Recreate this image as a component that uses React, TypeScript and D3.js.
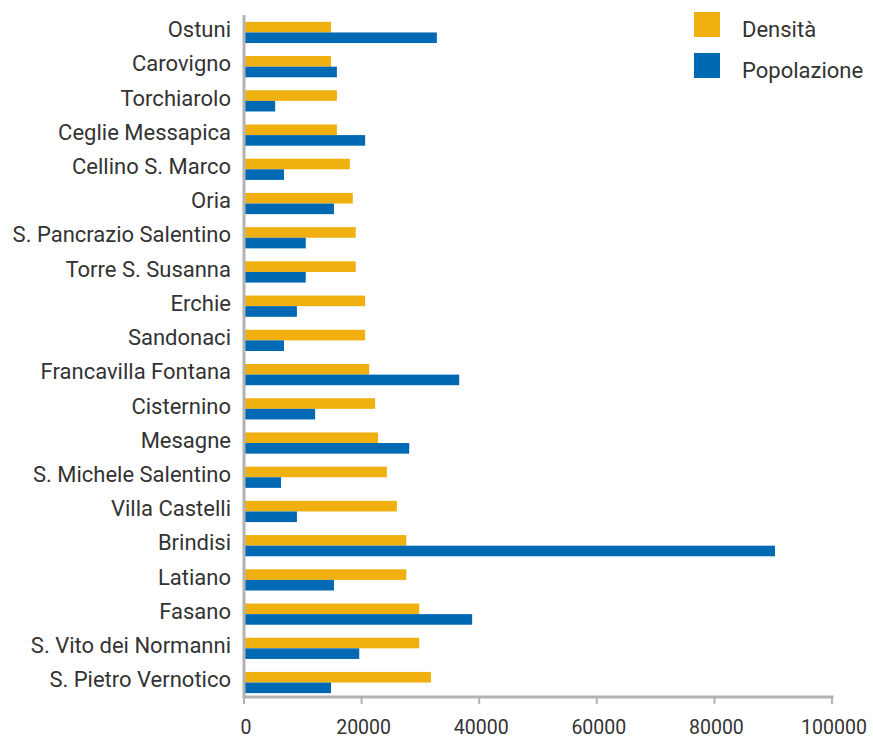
import React from "react";
import * as d3 from "d3";

const categories = [
  "Ostuni", "Carovigno", "Torchiarolo", "Ceglie Messapica", "Cellino S. Marco",
  "Oria", "S. Pancrazio Salentino", "Torre S. Susanna", "Erchie", "Sandonaci",
  "Francavilla Fontana", "Cisternino", "Mesagne", "S. Michele Salentino", "Villa Castelli",
  "Brindisi", "Latiano", "Fasano", "S. Vito dei Normanni", "S. Pietro Vernotico",
];
const densita = [
  14800, 14800, 15800, 15800, 18000, 18500, 19000, 19000, 20600, 20600,
  21300, 22300, 22800, 24300, 26000, 27600, 27600, 29800, 29800, 31800,
];
const popolazione = [
  32800, 15800, 5300, 20600, 6800, 15300, 10500, 10500, 9000, 6800,
  36600, 12100, 28100, 6300, 9000, 90300, 15300, 38800, 19600, 14800,
];
const xTicks = [0, 20000, 40000, 60000, 80000, 100000];
const seriesNames = ["Densità", "Popolazione"];
const colors = ["#F0B110", "#0069B4"];

export default function App() {
  const W = 873, H = 739;
  const x = d3.scaleLinear().domain([0, 100000]).range([244, 832]);
  const y = d3.scaleBand<string>().domain(categories).range([15, 700]).paddingInner(0.38).paddingOuter(0.2);
  const bh = y.bandwidth() / 2;
  const axisY = 697;
  const font = "Roboto, 'DejaVu Sans', sans-serif";
  return (
    <svg width={W} height={H} style={{ position: "absolute", left: 0, top: 0, fontFamily: font }}>
      {categories.map((c, i) => {
        const y0 = y(c)!;
        return (
          <g key={c}>
            <rect x={x(0)} y={y0} width={x(densita[i]) - x(0)} height={bh} fill={colors[0]} />
            <rect x={x(0)} y={y0 + bh} width={x(popolazione[i]) - x(0)} height={bh} fill={colors[1]} />
            <text x={231} y={y0 + bh - 3} dy="0.35em" textAnchor="end" fontSize={22} fill="#333">{c}</text>
          </g>
        );
      })}
      <line x1={x(0)} x2={x(0)} y1={15} y2={axisY} stroke="#b3b3b6" strokeWidth={3} />
      <line x1={x(0) - 1.5} x2={x(100000) + 1.5} y1={axisY} y2={axisY} stroke="#b3b3b6" strokeWidth={3} />
      {xTicks.map(t => (
        <g key={t}>
          <line x1={x(t)} x2={x(t)} y1={axisY} y2={axisY + 7} stroke="#b3b3b6" strokeWidth={2} />
          <text x={x(t) + 2} y={734} textAnchor="middle" fontSize={19.5} fill="#333">{t}</text>
        </g>
      ))}
      {seriesNames.map((s, i) => (
        <g key={s}>
          <rect x={694} y={12 + i * 41} width={26} height={25} fill={colors[i]} />
          <text x={742} y={29 + i * 41} dy="0.35em" fontSize={22} fill="#333">{s}</text>
        </g>
      ))}
    </svg>
  );
}
